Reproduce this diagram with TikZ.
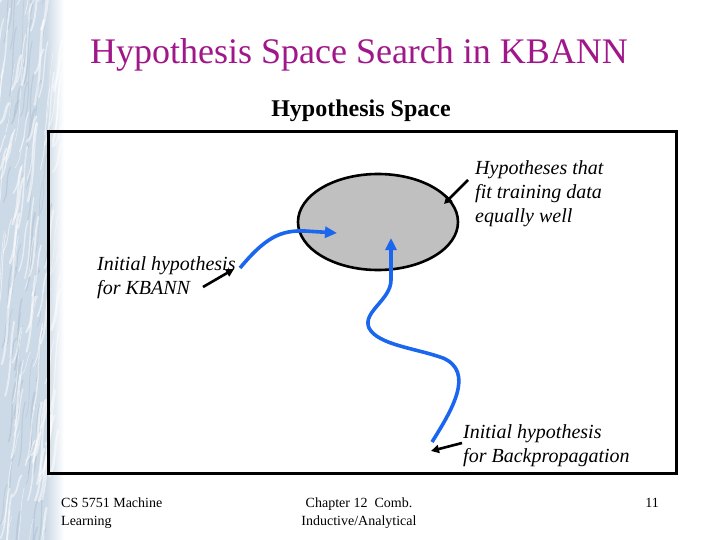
\documentclass[tikz,border=0pt]{standalone}
\usepackage{fontspec}
\setmainfont{Liberation Serif}
\usetikzlibrary{arrows.meta,positioning,shapes.geometric}
\definecolor{kbInk}{HTML}{000000}
\definecolor{kbBlue}{HTML}{1A66EE}
\definecolor{kbTitle}{HTML}{A0178A}
\definecolor{kbRegion}{HTML}{C0C0C0}
\definecolor{kbStrip}{HTML}{CCD9E6}
\definecolor{kbStreak}{HTML}{A9BBCE}
\tikzset{
  every picture/.style={text=kbInk},
  kb frame/.style={draw=kbInk, line width=3pt},
  kb region/.style={ellipse, draw=kbInk, line width=2.6pt, fill=kbRegion,
    minimum width=160pt, minimum height=96pt, inner sep=0pt},
  kb search/.style={-{Triangle[length=12pt,width=11pt]},
    draw=kbBlue, line width=3.6pt, line cap=butt},
  kb pointer/.style={-{Triangle[length=8pt,width=8pt]},
    draw=kbInk, line width=2.6pt, line cap=butt},
  kb label/.style={font=\fontsize{20}{24}\selectfont\itshape, align=left,
    anchor=north west, inner sep=0pt},
  kb foot/.style={font=\fontsize{14}{18}\selectfont, inner sep=0pt}
}

\begin{document}
\begin{tikzpicture}[x=1pt,y=-1pt]
  \useasboundingbox (0,0) rectangle (720,540);
  % textured strip on the left
  \begin{scope}
    \clip (0,0) rectangle (64,540);
    \fill[kbStrip] (0,0) rectangle (46,540);
    \shade[left color=kbStrip, right color=white] (46,0) rectangle (64,540);
    \pgfmathsetseed{11}
    \foreach \k in {1,...,60} {
      \pgfmathsetmacro{\sx}{rnd*46}
      \pgfmathsetmacro{\sy}{rnd*600}
      \pgfmathsetmacro{\sl}{20+rnd*60}
      \pgfmathsetmacro{\sw}{0.5+rnd*1.6}
      \draw[kbStreak, opacity=0.45, line width=\sw pt, line cap=round]
        (\sx,\sy) .. controls +(6,-\sl/3) and +(-6,\sl/3) .. +(7,-\sl);
    }
    \foreach \k in {1,...,110} {
      \pgfmathsetmacro{\sx}{rnd*60-6}
      \pgfmathsetmacro{\sy}{rnd*600}
      \pgfmathsetmacro{\sl}{20+rnd*70}
      \pgfmathsetmacro{\sw}{0.5+rnd*2}
      \draw[white, opacity=0.55, line width=\sw pt, line cap=round]
        (\sx,\sy) .. controls +(7,-\sl/3) and +(-5,\sl/3) .. +(9,-\sl);
    }
  \end{scope}

  \node[font=\fontsize{36}{40}\selectfont, text=kbTitle, anchor=base] (title) at (359,64) {Hypothesis Space Search in KBANN};
  \node[font=\fontsize{24}{28}\selectfont\bfseries, anchor=base] (space) at (361,117) {Hypothesis Space};
  \draw[kb frame] (48,132) rectangle (676,473);

  \node[kb region] (fitset) at (378,222) {};

  \node[kb label] (fitLabel) at (475,160) {Hypotheses that\\fit training data\\equally well};
  \node[kb label] (kbLabel) at (97,256) {Initial hypothesis\\for KBANN};
  \node[kb label] (bpLabel) at (463,424) {Initial hypothesis\\for Backpropagation};

  % search paths
  \coordinate (kbStart) at (240,268);
  \coordinate (kbEnd) at (337,233);
  \coordinate (bpStart) at (432,442);
  \coordinate (bpEnd) at (391,238);
  \draw[kb search] (kbStart) .. controls (265,238) and (280,230) .. (305,231) -- (kbEnd);
  \draw[kb search] (bpStart) .. controls (452,410) and (475,372) .. (443,358)
    .. controls (415,348) and (378,345) .. (369,328)
    .. controls (362,312) and (391,300) .. (391,280) -- (bpEnd);

  % pointers from the labels
  \coordinate (kbTail) at (203,287);
  \coordinate (kbTip) at (234,269);
  \coordinate (fitTail) at (468,180);
  \coordinate (fitTip) at (444,204);
  \coordinate (bpTail) at (462,443);
  \coordinate (bpTip) at (431,451);
  \draw[kb pointer] (kbTail) -- (kbTip);
  \draw[kb pointer] (fitTail) -- (fitTip);
  \draw[kb pointer] (bpTail) -- (bpTip);

  \node[kb foot, anchor=north west, align=left] (course) at (61,498) {CS 5751 Machine\\Learning};
  \node[kb foot, anchor=north, align=center] (chapter) at (359,498) {Chapter 12~ Comb.\\Inductive/Analytical};
  \node[kb foot, anchor=north east] (page) at (659,498) {11};
\end{tikzpicture}
\end{document}
